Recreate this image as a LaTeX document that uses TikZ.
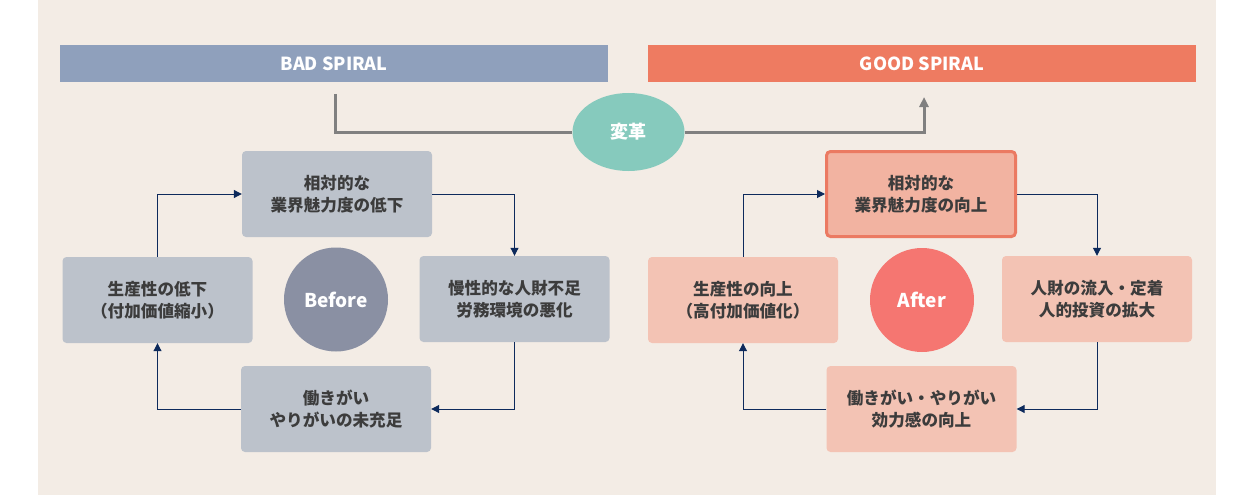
\documentclass[tikz,border=0pt]{standalone}
\usepackage{fontspec}
\setmainfont{Noto Sans CJK JP}
\usetikzlibrary{arrows.meta,shapes.geometric}
\definecolor{bgc}{HTML}{F3ECE5}
\definecolor{badbar}{HTML}{8FA0BC}
\definecolor{goodbar}{HTML}{EE7B61}
\definecolor{graybox}{HTML}{BCC2CB}
\definecolor{beforec}{HTML}{8A90A3}
\definecolor{pinkbox}{HTML}{F3C3B4}
\definecolor{pinktop}{HTML}{F2B3A1}
\definecolor{pinkline}{HTML}{EB7A62}
\definecolor{afterc}{HTML}{F57671}
\definecolor{tealc}{HTML}{86CABD}
\definecolor{grayline}{HTML}{808080}
\definecolor{navy}{HTML}{0D2A5C}
\definecolor{txt}{HTML}{3C3C3C}
\tikzset{
  bar/.style={rectangle, minimum width=548pt, minimum height=37pt, inner sep=0pt, text=white, font=\fontsize{18}{20}\selectfont\bfseries},
  box/.style={rectangle, rounded corners=4pt, minimum width=190pt, minimum height=86pt, inner sep=0pt, align=center, text=txt, font=\fontsize{16.6}{22}\selectfont\bfseries},
  badbox/.style={box, fill=graybox},
  goodbox/.style={box, fill=pinkbox},
  circ/.style={circle, minimum size=104pt, inner sep=0pt, text=white, font=\fontsize{19}{22}\selectfont\bfseries},
  arr/.style={draw=navy, line width=1pt, -{Triangle[length=8pt,width=8pt]}},
  glin/.style={draw=grayline, line width=3pt}
}
\begin{document}
\begin{tikzpicture}[x=1pt,y=-1pt]
\useasboundingbox (0,0) rectangle (1243,495);
\fill[white] (0,0) rectangle (1243,495);
\fill[bgc] (38,0) rectangle (1216,495);
% headers
\node[bar, fill=badbar] (badh) at (334,63.5) {BAD SPIRAL};
\node[bar, fill=goodbar] (goodh) at (922,63.5) {GOOD SPIRAL};
% change ellipse
\node[ellipse, fill=tealc, minimum width=112pt, minimum height=78pt, inner sep=0pt, text=white, font=\fontsize{18}{20}\selectfont\bfseries] (henkaku) at (628.5,132) {変革};
\coordinate (gstart) at (335,94);
\coordinate (gend) at (924,97);
\draw[glin] (gstart) |- (henkaku.west);
\draw[glin, -{Triangle[length=10pt,width=9pt]}] (henkaku.east) -| (gend);
% bad cycle
\node[badbox] (btop) at (337,194) {相対的な\\業界魅力度の低下};
\node[badbox] (bright) at (514.5,299) {慢性的な人財不足\\労務環境の悪化};
\node[badbox] (bbot) at (336,409) {働きがい\\やりがいの未充足};
\node[badbox] (bleft) at (157.5,300) {生産性の低下\\（付加価値縮小）};
\node[circ, fill=beforec] (before) at (336,299.5) {Before};
\draw[arr] (bleft.north) |- (btop.west);
\draw[arr] (btop.east) -| (bright.north);
\draw[arr] (bright.south) |- (bbot.east);
\draw[arr] (bbot.west) -| (bleft.south);
% good cycle
\node[goodbox, fill=pinktop, draw=pinkline, line width=3pt, minimum width=189pt, minimum height=85pt] (gtop) at (921,194) {相対的な\\業界魅力度の向上};
\node[goodbox] (gright) at (1097,299) {人財の流入・定着\\人的投資の拡大};
\node[goodbox] (gbot) at (921.5,409) {働きがい・やりがい\\効力感の向上};
\node[goodbox] (gleft) at (743,300) {生産性の向上\\（高付加価値化）};
\node[circ, fill=afterc] (after) at (922,300) {After};
\draw[arr] (gleft.north) |- (gtop.west);
\draw[arr] (gtop.east) -| (gright.north);
\draw[arr] (gright.south) |- (gbot.east);
\draw[arr] (gbot.west) -| (gleft.south);
\end{tikzpicture}
\end{document}
